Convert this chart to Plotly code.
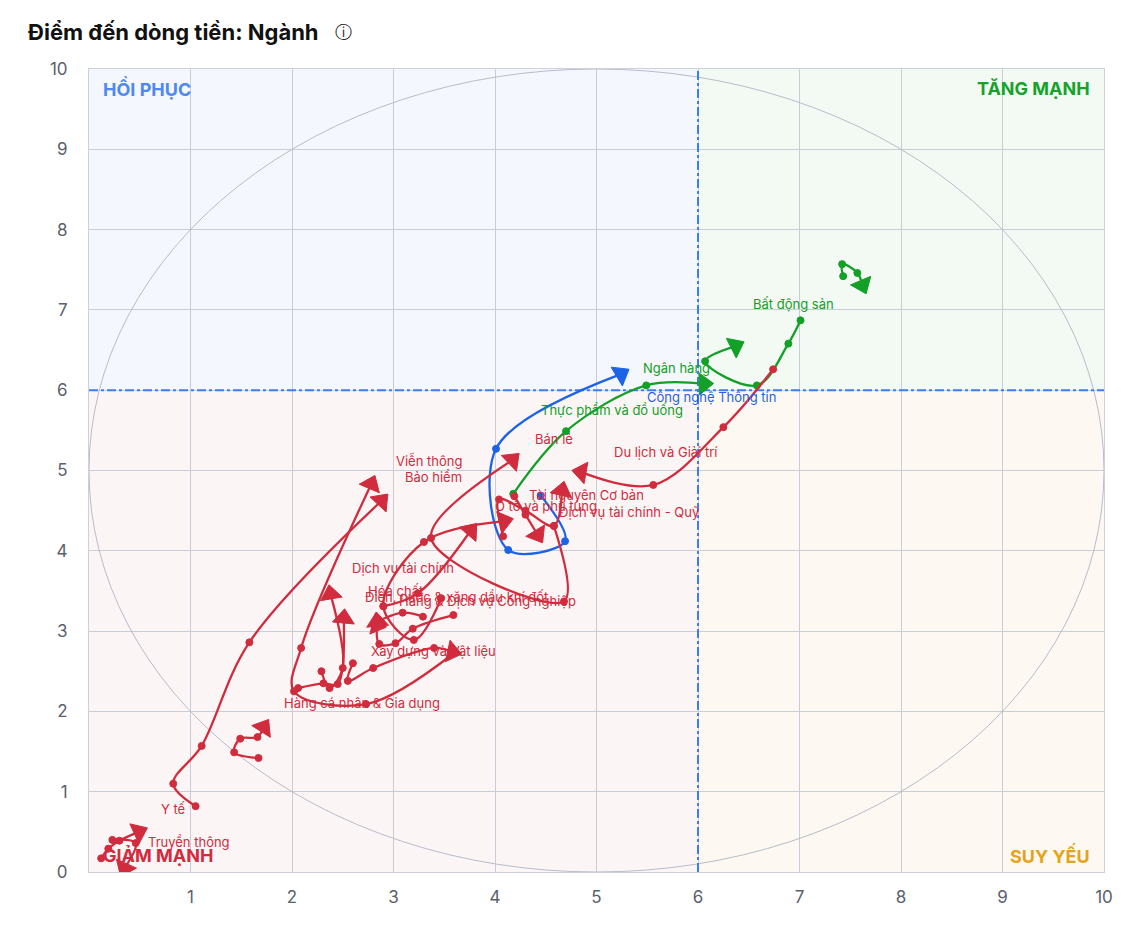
import math
import plotly.graph_objects as go

RED = "#d02c3d"
GREEN = "#12a027"
BLUE = "#1d63e6"

# rotation trails (x = score, y = momentum), last point is the arrow head
trail_color = [GREEN, GREEN, GREEN, BLUE,
               RED, RED, RED, RED, RED, RED, RED, RED, RED, RED,
               RED, RED, RED, RED, RED, RED]
trail_x = [
    [7.01, 6.89, 6.58, 6.07, 6.37],
    [4.18, 4.70, 5.49, 6.06],
    [7.43, 7.42, 7.57, 7.62],
    [4.45, 4.69, 4.13, 4.01, 5.24],
    [1.05, 0.83, 1.11, 1.58, 2.88],
    [0.12, 0.19, 0.30, 0.49],
    [0.23, 0.46, 0.35],
    [1.67, 1.43, 1.49, 1.66, 1.72],
    [3.60, 2.73, 2.02, 2.09, 2.78],
    [2.06, 2.31, 2.45, 2.51],
    [2.29, 2.37, 2.50, 2.38],
    [2.60, 2.55, 2.80, 3.40, 3.58],
    [3.59, 3.19, 3.02, 2.86, 2.84],
    [3.29, 3.09, 2.81, 2.84],
    [2.90, 3.24, 3.76],
    [3.47, 3.20, 2.90, 3.30, 4.09],
    [4.58, 4.68, 3.37, 4.17],
    [4.19, 4.30, 4.42],
    [4.08, 4.04, 4.30, 4.58, 4.66],
    [6.74, 6.25, 5.56, 4.85],
]
trail_y = [
    [6.87, 6.58, 6.06, 6.36, 6.55],
    [4.71, 5.49, 6.06, 6.08],
    [7.42, 7.57, 7.46, 7.31],
    [4.69, 4.12, 4.01, 5.27, 6.20],
    [0.82, 1.10, 1.57, 2.86, 4.62],
    [0.17, 0.29, 0.39, 0.50],
    [0.40, 0.36, 0.05],
    [1.42, 1.49, 1.66, 1.68, 1.80],
    [2.73, 2.09, 2.25, 2.79, 4.83],
    [2.29, 2.35, 2.34, 3.16],
    [2.50, 2.29, 2.54, 3.46],
    [2.60, 2.38, 2.54, 2.79, 2.74],
    [3.20, 3.03, 2.85, 2.84, 3.12],
    [3.18, 3.23, 3.09, 3.08],
    [3.31, 3.47, 4.25],
    [3.41, 2.89, 3.31, 4.11, 4.37],
    [4.31, 3.37, 4.16, 5.13],
    [4.68, 4.45, 4.20],
    [4.18, 4.64, 4.50, 4.31, 4.75],
    [6.26, 5.54, 4.82, 4.98],
]

label_text = ["Bất động sản", "Ngân hàng", "Công nghệ Thông tin", "Thực phẩm và đồ uống",
              "Bán lẻ", "Du lịch và Giải trí", "Viễn thông", "Bảo hiểm", "Tài nguyên Cơ bản",
              "Ô tô và phụ tùng", "Dịch vụ tài chính - Quỹ", "Dịch vụ tài chính", "Hóa chất",
              "Điện, nước & xăng dầu khí đốt", "Hàng & Dịch vụ Công nghiệp", "Xây dựng và Vật liệu",
              "Hàng cá nhân & Gia dụng", "Y tế", "Truyền thông"]
label_color = [GREEN, GREEN, BLUE, GREEN] + [RED] * 15
label_x = [6.94, 5.79, 6.13, 5.15, 4.58, 5.68, 3.35, 3.39, 4.90, 4.50, 5.32,
           3.09, 3.02, 3.62, 3.93, 3.39, 2.69, 0.83, 0.99]
label_y = [7.07, 6.28, 5.92, 5.75, 5.39, 5.23, 5.12, 4.92, 4.70, 4.56, 4.48,
           3.79, 3.50, 3.43, 3.37, 2.75, 2.10, 0.79, 0.37]

x_ticks = [1, 2, 3, 4, 5, 6, 7, 8, 9, 10]
y_ticks = [0, 1, 2, 3, 4, 5, 6, 7, 8, 9, 10]

W, H = 1133, 932
ML, MR, MT, MB = 81, 37, 61, 68
px_x = (W - ML - MR) / 10.0
px_y = (H - MT - MB) / 10.0

fig = go.Figure()

# quadrant backgrounds
quads = [(0, 6, 6, 10, "#f4f7fd"), (6, 10, 6, 10, "#f3faf4"),
         (0, 6, 0, 6, "#fcf5f6"), (6, 10, 0, 6, "#fdf9f2")]
for x0, x1, y0, y1, c in quads:
    fig.add_shape(type="rect", x0=x0, x1=x1, y0=y0, y1=y1, fillcolor=c,
                  line=dict(width=0), layer="below")

fig.add_shape(type="circle", x0=0, x1=10, y0=0, y1=10,
              line=dict(color="#b7bcc9", width=1), layer="between")
fig.add_shape(type="line", x0=6, x1=6, y0=0, y1=10,
              line=dict(color="#3b7ef2", width=2, dash="dashdot"), layer="between")
fig.add_shape(type="line", x0=0, x1=10, y0=6, y1=6,
              line=dict(color="#3b7ef2", width=2, dash="dashdot"), layer="between")

for xs, ys, c in zip(trail_x, trail_y, trail_color):
    n = len(xs)
    dx = (xs[-1] - xs[-2]) * px_x
    dy = (ys[-1] - ys[-2]) * px_y
    ang = math.degrees(math.atan2(dx, dy))
    fig.add_trace(go.Scatter(
        x=xs, y=ys, mode="lines+markers",
        line=dict(color=c, width=2.3, shape="spline", smoothing=1),
        marker=dict(color=c, opacity=1, symbol=["circle"] * (n - 1) + ["triangle-up"],
                    size=[7] * (n - 1) + [19], angle=[0] * (n - 1) + [ang],
                    line=dict(width=1, color=c)),
        opacity=1, hoverinfo="skip", showlegend=False))

for t, x, y, c in zip(label_text, label_x, label_y, label_color):
    fig.add_annotation(x=x, y=y, text=t, showarrow=False,
                       font=dict(size=13, color=c, family="Inter"))

quad_labels = [("HỒI PHỤC", 0.12, 9.76, "left", "#4f88f2"),
               ("TĂNG MẠNH", 9.88, 9.76, "right", "#17a32b"),
               ("GIẢM MẠNH", 0.12, 0.21, "left", "#d02c3d"),
               ("SUY YẾU", 9.88, 0.21, "right", "#e6a317")]
for t, x, y, anchor, c in quad_labels:
    fig.add_annotation(x=x, y=y, text="<b>" + t + "</b>", showarrow=False, xanchor=anchor,
                       font=dict(size=18, color=c, family="Inter"))

fig.add_annotation(xref="paper", yref="paper", x=0.240, y=1.046, text="ⓘ", showarrow=False,
                   xanchor="left", yanchor="middle",
                   font=dict(size=17, color="#222", family="DejaVu Sans"))

axis_common = dict(range=[0, 10], showgrid=True, gridcolor="#c9cdd8", gridwidth=1,
                   zeroline=False, showline=True, linecolor="#cdd1da", mirror=True,
                   tickfont=dict(size=17, color="#5a606c", family="Inter"),
                   ticks="", fixedrange=True)

fig.update_layout(
    width=W, height=H,
    margin=dict(l=ML, r=MR, t=MT, b=MB),
    paper_bgcolor="white", plot_bgcolor="white",
    title=dict(text="<b>Điểm đến dòng tiền: Ngành</b>", x=0.0177, xanchor="left",
               y=0.974, yanchor="middle", font=dict(size=22, color="#111", family="Inter")),
    xaxis=dict(tickvals=x_ticks, ticklabelstandoff=10, **axis_common),
    yaxis=dict(tickvals=y_ticks, ticklabelstandoff=17, **axis_common),
    font=dict(family="Inter"),
)

fig.write_html("out.html")
